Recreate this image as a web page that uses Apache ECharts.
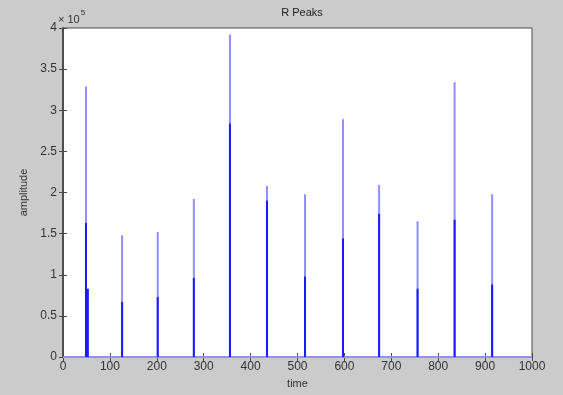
<!DOCTYPE html>
<html>
<head>
<meta charset="utf-8">
<script src="https://cdn.jsdelivr.net/npm/echarts@6/dist/echarts.min.js"></script>
<style>
  html, body { margin: 0; padding: 0; background: #cbcbcb; }
  #chart { width: 563px; height: 395px; }
</style>
</head>
<body>
<div id="chart"></div>
<script>
// R peak positions (time) and amplitudes
const peakTimes = [49, 126, 202, 279, 356, 435, 516, 597, 674, 756, 835, 915]
const peakValues = [329000, 148000, 152000, 192000, 392000, 208000, 198000, 289000, 209000, 165000, 334000, 198000]
// darker (overlapping) lower part of each spike
const coreValues = [163000, 67000, 73000, 96000, 284000, 190000, 98000, 144000, 174000, 83000, 167000, 88000]
// short second stroke next to the first spike
const sideTimes = [53]
const sideValues = [83000]

const xRange = [0, 1000]
const yMax = 400000

const lightData = [[xRange[0], 0]]
peakTimes.forEach((t, i) => {
  lightData.push([t, 0], [t, peakValues[i]], [t, 0])
})
lightData.push([xRange[1], 0])

const darkData = []
peakTimes.forEach((t, i) => {
  darkData.push([t, 0], [t, coreValues[i]], [t, '-'])
})
sideTimes.forEach((t, i) => {
  darkData.push([t, 0], [t, sideValues[i]], [t, '-'])
})

const axisColor = '#4a4a4a'
const font = 'Liberation Sans, Arial, sans-serif'
const labelStyle = { color: '#333', fontSize: 12, fontFamily: font }

const chart = echarts.init(document.getElementById('chart'))
chart.setOption({
  backgroundColor: '#cbcbcb',
  animation: false,
  title: {
    text: 'R Peaks',
    left: 297,
    top: 2,
    textAlign: 'center',
    textStyle: { fontSize: 11, fontWeight: 'normal', color: '#222', fontFamily: font }
  },
  graphic: [{
    type: 'text',
    left: 58,
    top: 9,
    style: {
      text: '{a|× 10}{b|5}',
      rich: {
        a: { fontSize: 11, fill: '#333', fontFamily: font, verticalAlign: 'bottom' },
        b: { fontSize: 8, fill: '#333', fontFamily: font, verticalAlign: 'top', padding: [0, 0, 8, 1] }
      }
    }
  }],
  grid: {
    left: 63,
    right: 31,
    top: 28,
    bottom: 38,
    show: true,
    backgroundColor: '#ffffff',
    borderColor: axisColor,
    borderWidth: 1
  },
  xAxis: [{
    type: 'value',
    min: xRange[0],
    max: xRange[1],
    interval: 100,
    name: 'time',
    nameLocation: 'middle',
    nameGap: 21,
    nameTextStyle: { color: '#333', fontSize: 11, fontFamily: font },
    axisLine: { lineStyle: { color: axisColor, width: 1.5 } },
    axisTick: { inside: true, length: 4, lineStyle: { color: axisColor } },
    axisLabel: Object.assign({ margin: 4, formatter: v => String(v) }, labelStyle),
    splitLine: { show: false }
  }, {
    type: 'value',
    position: 'top',
    min: xRange[0],
    max: xRange[1],
    interval: 100,
    axisLine: { lineStyle: { color: axisColor, width: 1.5 } },
    axisTick: { inside: true, length: 4, lineStyle: { color: axisColor } },
    axisLabel: { show: false },
    splitLine: { show: false }
  }],
  yAxis: [{
    type: 'value',
    min: 0,
    max: yMax,
    interval: 50000,
    name: 'amplitude',
    nameLocation: 'middle',
    nameGap: 34,
    nameTextStyle: { color: '#333', fontSize: 11, fontFamily: font },
    axisLine: { show: true, lineStyle: { color: axisColor, width: 1.5 } },
    axisTick: { show: true, inside: true, length: 4, lineStyle: { color: axisColor } },
    axisLabel: Object.assign({ margin: 6, formatter: v => String(v / 100000) }, labelStyle),
    splitLine: { show: false }
  }, {
    type: 'value',
    position: 'right',
    min: 0,
    max: yMax,
    interval: 50000,
    axisLine: { show: true, lineStyle: { color: axisColor, width: 1.5 } },
    axisTick: { show: true, inside: true, length: 4, lineStyle: { color: axisColor } },
    axisLabel: { show: false },
    splitLine: { show: false }
  }],
  series: [{
    type: 'line',
    data: lightData,
    showSymbol: false,
    lineStyle: { color: '#8f8fff', width: 2 },
    z: 2
  }, {
    type: 'line',
    data: darkData,
    showSymbol: false,
    connectNulls: false,
    lineStyle: { color: '#1a1aff', width: 2 },
    z: 3
  }]
})
</script>
</body>
</html>
